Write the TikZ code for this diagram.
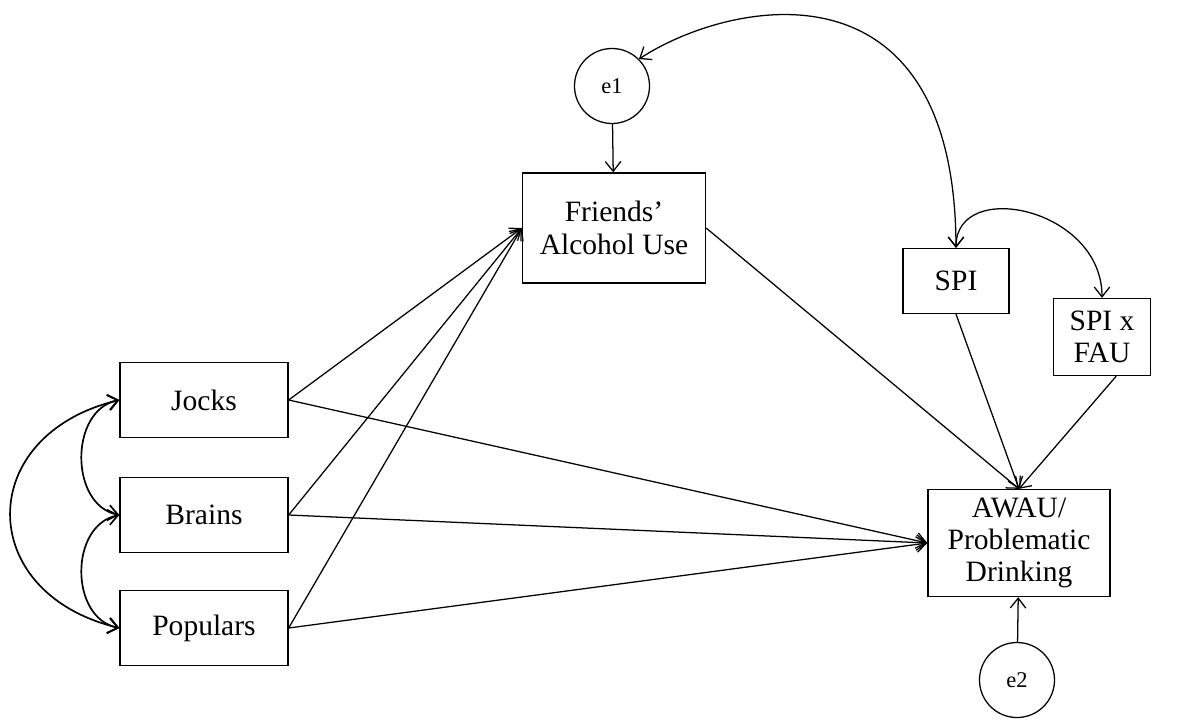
\documentclass[tikz,border=0pt]{standalone}
\usepackage{fontspec}
\setmainfont{Liberation Serif}
\usetikzlibrary{arrows.meta}

\tikzset{
  var/.style={draw, line width=0.9pt, align=center, inner sep=2pt,
    font=\fontsize{21}{23}\selectfont},
  err/.style={draw, circle, line width=0.9pt, minimum size=1.875cm,
    inner sep=0pt, font=\fontsize{16}{18}\selectfont},
  path/.style={->, line width=0.9pt},
  cov/.style={<->, line width=0.9pt},
}

\begin{document}
\begin{tikzpicture}[x=0.025cm, y=-0.025cm,
    >={Straight Barb[length=7pt,width=11pt]}]
    \useasboundingbox (0,0) rectangle (1184,719);

    % groups
    \node [var, minimum width=4.2cm, minimum height=1.875cm] (jocks) at (204,400) {Jocks};
    \node [var, minimum width=4.2cm, minimum height=1.875cm] (brains) at (204,515) {Brains};
    \node [var, minimum width=4.2cm, minimum height=1.875cm] (populars) at (204,628) {Populars};

    % mediator and moderators
    \node [var, minimum width=4.575cm, minimum height=2.75cm] (friends) at (614,228) {Friends'\\Alcohol Use};
    \node [err] (e1) at (612,86) {e1};
    \node [var, minimum width=2.65cm, minimum height=1.625cm] (spi) at (956,281) {SPI};
    \node [var, minimum width=2.425cm, minimum height=1.925cm] (fau) at (1102,337) {SPI x\\FAU};

    % outcome
    \node [var, minimum width=4.55cm, minimum height=2.675cm] (awau) at (1019,543) {AWAU/\\Problematic\\Drinking};
    \node [err] (e2) at (1017,680) {e2};

    % paths
    \foreach \g in {jocks, brains, populars} {
        \draw [path] (\g.east) -- (friends.west);
        \draw [path] (\g.east) -- (awau.west);
    }
    \draw [path] (friends.east) -- (awau.north);
    \draw [path] (spi.south) -- (awau.north);
    \draw [path] (fau.290) -- (awau.north);
    \draw [path] (e1) -- (friends);
    \draw [path] (e2) -- (awau);

    % covariances
    \draw [cov, line width=1.2pt] (jocks.west) .. controls +(-50,10) and +(-50,-10) .. (brains.west);
    \draw [cov, line width=1.2pt] (brains.west) .. controls +(-50,10) and +(-50,-10) .. (populars.west);
    \draw [cov, line width=1.2pt] (jocks.west) .. controls +(-145,35) and +(-145,-35) .. (populars.west);
    \draw [cov] (e1.45) .. controls +(92,-60) and +(-1,-294) .. (spi.north);
    \draw [cov] (spi.north) .. controls +(0,-70) and +(0,-90) .. (fau.north);
\end{tikzpicture}
\end{document}
